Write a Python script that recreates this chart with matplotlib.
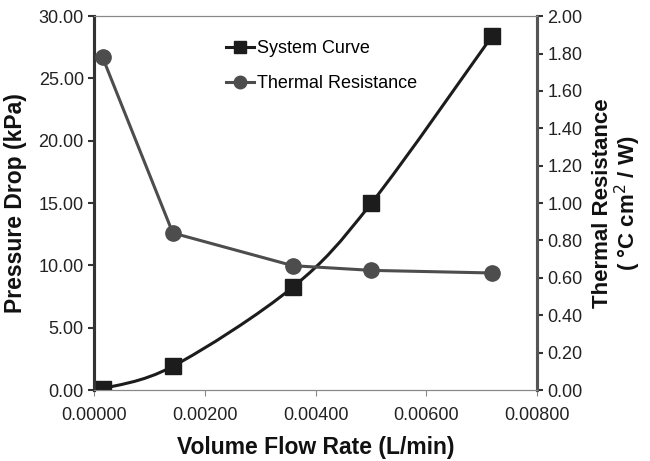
import numpy as np
import matplotlib
matplotlib.use('Agg')
import matplotlib.pyplot as plt
from matplotlib.path import Path
from matplotlib.patches import PathPatch

plt.rcParams['font.family'] = ['Liberation Sans', 'DejaVu Sans']

flow = [0.00015, 0.00142, 0.00359, 0.00501, 0.00719]
pressure = [0.1, 1.9, 8.26, 15.0, 28.4]
resistance = [1.78, 0.84, 0.665, 0.64, 0.626]

dark = '#1c1c1c'
gray = '#4d4d4d'

fig = plt.figure(figsize=(6.5, 4.61), dpi=100)
ax = fig.add_axes([0.145, 0.154, 0.681, 0.811])
ax2 = ax.twinx()

# smooth line like excel: bezier segments through the points
x = np.array(flow); y = np.array(pressure)
verts = [(x[0], y[0])]
codes = [Path.MOVETO]
n = len(x)
for i in range(n - 1):
    p0 = np.array([x[max(i - 1, 0)], y[max(i - 1, 0)]])
    p1 = np.array([x[i], y[i]])
    p2 = np.array([x[i + 1], y[i + 1]])
    p3 = np.array([x[min(i + 2, n - 1)], y[min(i + 2, n - 1)]])
    c1 = p1 + (p2 - p0) / 6
    c2 = p2 - (p3 - p1) / 6
    verts += [tuple(c1), tuple(c2), tuple(p2)]
    codes += [Path.CURVE4] * 3
ax.add_patch(PathPatch(Path(verts, codes), fill=False, lw=2.2, ec=dark, zorder=3))
ax.plot(flow, pressure, ls='none', marker='s', ms=12, color=dark, zorder=4)
sys_h, = ax.plot([], [], marker='s', ms=9, color=dark, lw=2.2, label='System Curve')

ax2.plot(flow, resistance, marker='o', ms=11, color=gray, lw=2.2, zorder=3)
th_h, = ax.plot([], [], marker='o', ms=9, color=gray, lw=2.2, label='Thermal Resistance')

ax.set_xlim(0, 0.008)
ax.set_ylim(0, 30)
ax2.set_ylim(0, 2)
ax.set_xticks(np.arange(0, 0.0081, 0.002))
ax.set_xticklabels(['%.5f' % v for v in np.arange(0, 0.0081, 0.002)])
ax.set_yticks(np.arange(0, 31, 5))
ax.set_yticklabels(['%.2f' % v for v in np.arange(0, 31, 5)])
ax2.set_yticks(np.arange(0, 2.01, 0.2))
ax2.set_yticklabels(['%.2f' % v for v in np.arange(0, 2.01, 0.2)])

for a in (ax, ax2):
    a.spines['top'].set_color('#888888')
    a.spines['top'].set_linewidth(0.8)
    a.spines['bottom'].set_color('#888888')
    a.spines['bottom'].set_linewidth(0.8)
    a.spines['left'].set_color('#333333')
    a.spines['left'].set_linewidth(2.2)
    a.spines['right'].set_color('#555555')
    a.spines['right'].set_linewidth(2.2)
    a.tick_params(axis='y', labelsize=13, length=4, width=1.5, colors='#333333', labelcolor='#222222')
ax.tick_params(axis='x', labelsize=13, length=4, width=0.8, colors='#888888', labelcolor='#222222', pad=8)

ax.set_xlabel('Volume Flow Rate (L/min)', fontsize=16.5, fontweight='bold', color='#111111', labelpad=9)
ax.set_ylabel('Pressure Drop (kPa)', fontsize=16.5, fontweight='bold', color='#111111', labelpad=8)
ax2.set_ylabel('Thermal Resistance\n( °C cm$^2$ / W)', fontsize=16, fontweight='bold',
               color='#111111', labelpad=7, linespacing=1.0)

ax.legend(handles=[sys_h, th_h], loc='upper left', bbox_to_anchor=(0.26, 0.98), frameon=False,
          fontsize=13, handlelength=1.6, handletextpad=0.15, labelspacing=1.0)

fig.savefig('out.png', dpi=100)
